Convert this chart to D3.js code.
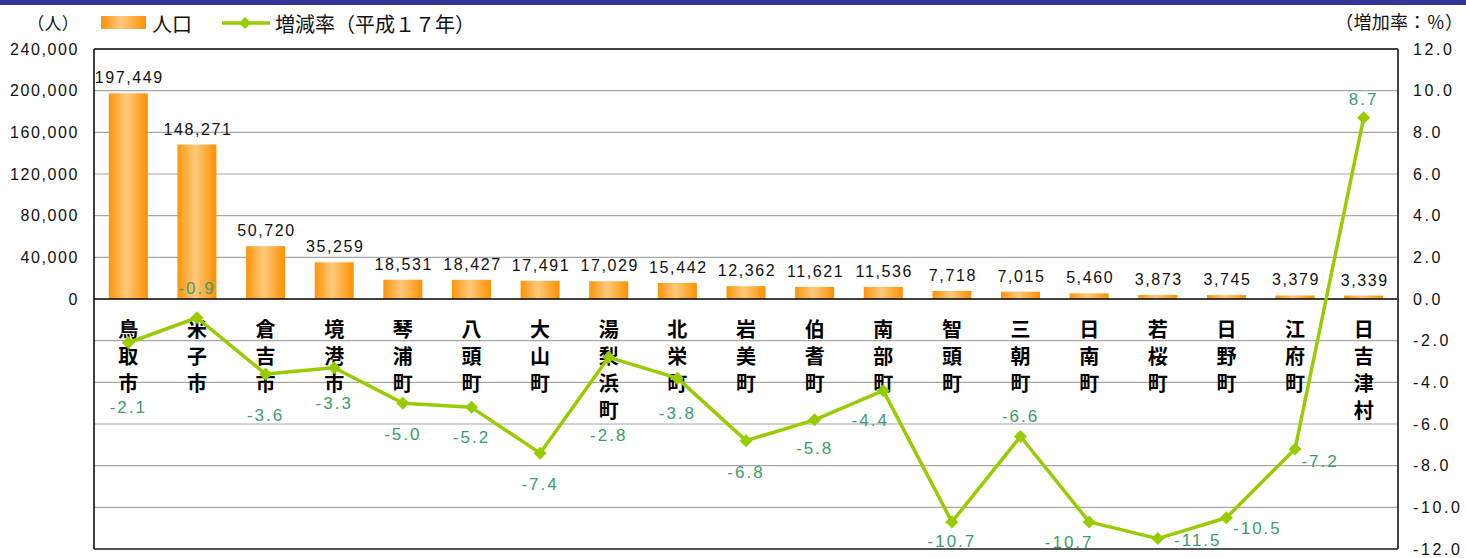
<!DOCTYPE html>
<html><head><meta charset="utf-8">
<script src="https://cdn.jsdelivr.net/npm/d3@7"></script>
<style>
body{margin:0;background:#fff;}
svg{display:block;}
</style></head>
<body>
<svg id="c" width="1466" height="558"></svg>
<script>
const categories = ["鳥取市","米子市","倉吉市","境港市","琴浦町","八頭町","大山町","湯梨浜町","北栄町","岩美町","伯耆町","南部町","智頭町","三朝町","日南町","若桜町","日野町","江府町","日吉津村"];
const population = [197449,148271,50720,35259,18531,18427,17491,17029,15442,12362,11621,11536,7718,7015,5460,3873,3745,3379,3339];
const rate = [-2.1,-0.9,-3.6,-3.3,-5.0,-5.2,-7.4,-2.8,-3.8,-6.8,-5.8,-4.4,-10.7,-6.6,-10.7,-11.5,-10.5,-7.2,8.7];
const leftTicks = [0,40000,80000,120000,160000,200000,240000];
const rightTicks = [12,10,8,6,4,2,0,-2,-4,-6,-8,-10,-12];

// label layout offsets (dx, dy) for rate labels
const rateLabelOffsets = [[0,65],[0,-29],[0,41],[0,36],[0,31],[0,30],[0,31],[0,78],[0,35],[0,32],[0,29],[-13,30],[0,20],[0,-20],[-20,21],[40,2],[31,11],[25,12],[0,-18]];

const svg = d3.select("#c");
const L = 94, R = 1398, T = 49, B = 549;
const fmt = d3.format(",");
const numFont = "'Liberation Sans', Arial, sans-serif";
const jpFont = "'Noto Sans CJK JP', sans-serif";

const x = d3.scaleBand().domain(categories).range([L, R]);
const yL = d3.scaleLinear().domain([-240000, 240000]).range([B, T]);
const yR = d3.scaleLinear().domain([-12, 12]).range([B, T]);

// fixed-cell text (full-width characters)
function cellText(str, x0, y, cell, size){
  const gg = svg.append("g");
  Array.from(str).forEach((ch,k)=>{
    gg.append("text").attr("x", x0 + cell*(k+0.5)).attr("y", y)
      .attr("text-anchor","middle").attr("dominant-baseline","central")
      .attr("font-family",jpFont).attr("font-size",size).attr("fill","#111").text(ch);
  });
}

// top bar
svg.append("rect").attr("x",0).attr("y",0).attr("width",1466).attr("height",5).attr("fill","#333399");

// gradient
const defs = svg.append("defs");
const g = defs.append("linearGradient").attr("id","bg").attr("x1","0").attr("x2","1").attr("y1","0").attr("y2","0");
g.append("stop").attr("offset","0").attr("stop-color","#ff9408");
g.append("stop").attr("offset","0.45").attr("stop-color","#ffc97c");
g.append("stop").attr("offset","1").attr("stop-color","#ff9000");

// gridlines
svg.append("g").selectAll("line").data(rightTicks.filter(d=>d!==0 && d!==12 && d!==-12)).join("line")
  .attr("x1",L).attr("x2",R).attr("y1",d=>yR(d)).attr("y2",d=>yR(d))
  .attr("stroke","#a6a6a6").attr("stroke-width",1.2);

// bars
svg.append("g").selectAll("rect").data(population).join("rect")
  .attr("x",(d,i)=>x(categories[i]) + x.bandwidth()/2 - 19.5)
  .attr("width",39)
  .attr("y",d=>yL(d)).attr("height",d=>yL(0)-yL(d))
  .attr("fill","url(#bg)");

// bar labels
svg.append("g").selectAll("text").data(population).join("text")
  .attr("x",(d,i)=>x(categories[i]) + x.bandwidth()/2 + 1)
  .attr("y",d=>yL(d)-10)
  .attr("text-anchor","middle")
  .attr("font-family",numFont).attr("font-size",16).attr("letter-spacing","1.6px")
  .attr("fill","#111").text(d=>fmt(d));

// zero line & frame
svg.append("line").attr("x1",L).attr("x2",R).attr("y1",yR(0)).attr("y2",yR(0)).attr("stroke","#000").attr("stroke-width",1.5);
svg.append("line").attr("x1",L).attr("x2",R).attr("y1",T).attr("y2",T).attr("stroke","#000").attr("stroke-width",1.5);
svg.append("line").attr("x1",L).attr("x2",R).attr("y1",B).attr("y2",B).attr("stroke","#555").attr("stroke-width",2);
svg.append("line").attr("x1",L).attr("x2",L).attr("y1",T).attr("y2",B).attr("stroke","#000").attr("stroke-width",1.5);
svg.append("line").attr("x1",R).attr("x2",R).attr("y1",T).attr("y2",B).attr("stroke","#444").attr("stroke-width",2);

// category labels (vertical)
const cg = svg.append("g");
categories.forEach((c,i)=>{
  const cx = x(c) + x.bandwidth()/2;
  Array.from(c).forEach((ch,k)=>{
    cg.append("text").attr("x",cx).attr("y",328 + k*27)
      .attr("text-anchor","middle").attr("dominant-baseline","central")
      .attr("font-family",jpFont).attr("font-weight","bold").attr("font-size",20)
      .attr("fill","#000").text(ch);
  });
});

// line
const line = d3.line().x((d,i)=>x(categories[i]) + x.bandwidth()/2).y(d=>yR(d));
svg.append("path").datum(rate).attr("d",line).attr("fill","none").attr("stroke","#99cc00").attr("stroke-width",3.5).attr("stroke-linejoin","round");
svg.append("g").selectAll("path").data(rate).join("path")
  .attr("d",(d,i)=>{const px=x(categories[i])+x.bandwidth()/2, py=yR(d), s=6.5; return `M${px},${py-s}L${px+s},${py}L${px},${py+s}L${px-s},${py}Z`;})
  .attr("fill","#99cc00");

// rate labels
svg.append("g").selectAll("text").data(rate).join("text")
  .attr("x",(d,i)=>x(categories[i]) + x.bandwidth()/2 + rateLabelOffsets[i][0])
  .attr("y",(d,i)=>yR(d) + rateLabelOffsets[i][1])
  .attr("text-anchor","middle").attr("dominant-baseline","central")
  .attr("font-family",numFont).attr("font-size",17).attr("letter-spacing","2px")
  .attr("fill","#3c9c6c").text(d=>d.toFixed(1));

// left axis labels
svg.append("g").selectAll("text").data(leftTicks).join("text")
  .attr("x",79).attr("y",d=>yL(d)).attr("text-anchor","end").attr("dominant-baseline","central")
  .attr("font-family",numFont).attr("font-size",16).attr("letter-spacing","1.6px")
  .attr("fill","#111").text(d=>fmt(d));

// right axis labels
svg.append("g").selectAll("text").data(rightTicks).join("text")
  .attr("x",1413).attr("y",d=>yR(d)).attr("text-anchor","start").attr("dominant-baseline","central")
  .attr("font-family",numFont).attr("font-size",16).attr("letter-spacing","2.6px")
  .attr("fill","#111").text(d=>d.toFixed(1));

// legend & unit labels
cellText("（人）", 27, 22, 17.3, 17);
svg.append("rect").attr("x",101).attr("y",16).attr("width",45).attr("height",13).attr("fill","url(#bg)");
cellText("人口", 152, 23, 20, 20);
svg.append("line").attr("x1",222).attr("x2",270).attr("y1",23).attr("y2",23).attr("stroke","#99cc00").attr("stroke-width",3.5);
svg.append("path").attr("d","M245,17L251,23L245,29L239,23Z").attr("fill","#99cc00");
cellText("増減率（平成１７年）", 275, 23, 20, 20);
cellText("（増加率：％）", 1335, 21, 18.3, 18);
</script>
</body></html>
